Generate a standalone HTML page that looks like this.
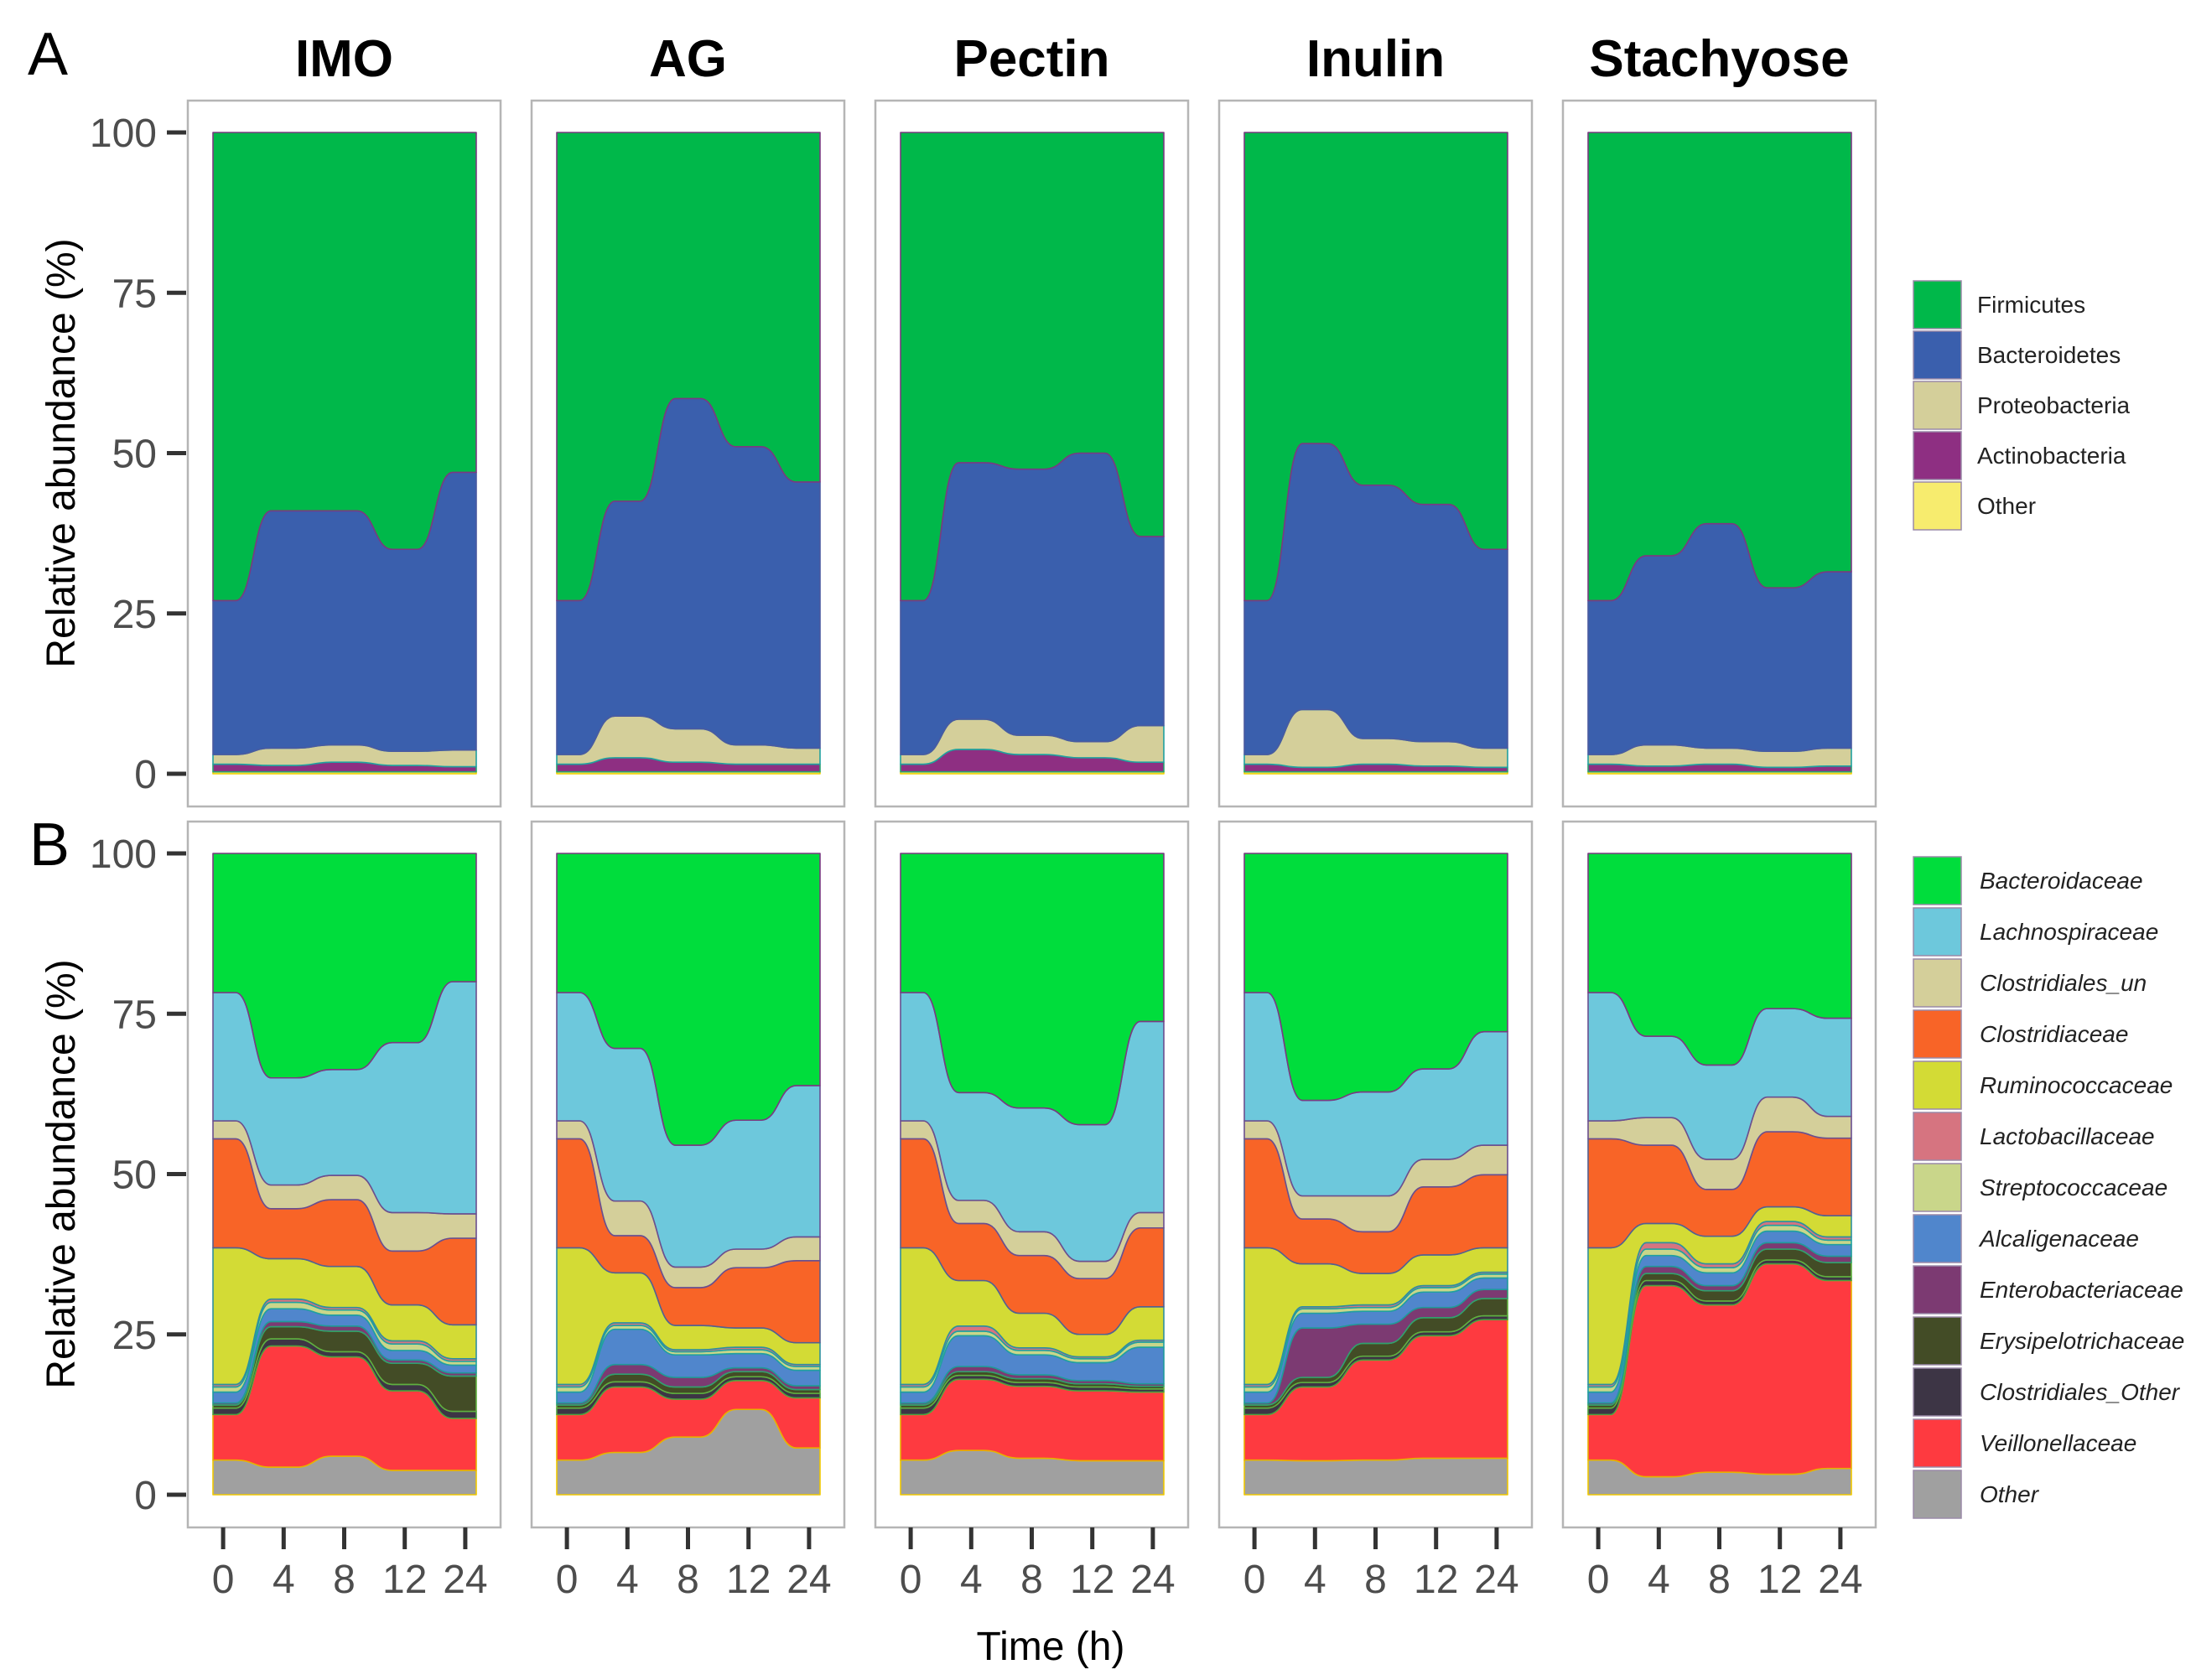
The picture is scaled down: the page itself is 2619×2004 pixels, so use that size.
<!DOCTYPE html>
<html><head><meta charset="utf-8">
<style>
html,body{margin:0;padding:0;background:#fff;}
svg{display:block;}
text{font-family:"Liberation Sans",Arial,sans-serif;}
</style></head>
<body>
<svg id="fig" width="2619" height="2004" viewBox="0 0 2619 2004" xmlns="http://www.w3.org/2000/svg">
<rect x="0" y="0" width="2619" height="2004" fill="#fff"/>
<g id="root"></g>
</svg>
<script>
// ---------- DATA ----------
const substrates = ["IMO", "AG", "Pectin", "Inulin", "Stachyose"];
const timeLabels = ["0", "4", "8", "12", "24"];
const yTicks = [0, 25, 50, 75, 100];

// Panel A (phylum), bottom to top; top layer (Firmicutes) fills remainder to 100
const phylaNames = ["Other", "Actinobacteria", "Proteobacteria", "Bacteroidetes", "Firmicutes"];
const phylaOther = [[0.3,0.3,0.3,0.3,0.3],[0.3,0.3,0.3,0.3,0.3],[0.3,0.3,0.3,0.3,0.3],[0.3,0.3,0.3,0.3,0.3],[0.3,0.3,0.3,0.3,0.3]];
const phylaActino = [[1.2,1,1.5,1,0.8],[1.2,2.2,1.5,1.2,1.2],[1.2,3.5,2.7,2.2,1.5],[1.2,0.7,1.2,0.9,0.7],[1.2,0.9,1.2,0.7,0.9]];
const phylaProteo = [[1.5,2.7,2.7,2.2,2.6],[1.5,6.5,5.2,3,2.5],[1.5,4.7,3,2.5,5.7],[1.5,9,4,3.8,3],[1.5,3.3,2.5,2.5,2.8]];
const phylaBacter = [[24,37,36.5,31.5,43.3],[24,33.5,51.5,46.5,41.5],[24,40,41.5,45,29.5],[24,41.5,39.5,37,31],[24,29.5,35,25.5,27.5]];

// Panel B (family), bottom to top; top layer (Bacteroidaceae) fills remainder to 100
const familyNames = ["Other","Veillonellaceae","Clostridiales_Other","Erysipelotrichaceae","Enterobacteriaceae","Alcaligenaceae","Streptococcaceae","Lactobacillaceae","Ruminococcaceae","Clostridiaceae","Clostridiales_un","Lachnospiraceae","Bacteroidaceae"];
const famOther   = [[5.4,4.3,6,3.8,3.8],[5.4,6.6,9,13.3,7.3],[5.4,6.9,5.7,5.3,5.3],[5.4,5.3,5.4,5.7,5.7],[5.4,2.8,3.5,3.2,4.1]];
const famVeill   = [[7.1,18.9,15.5,12.4,8.1],[7.1,10.2,5.9,4.5,7.8],[7.1,11.1,11.2,10.9,10.7],[7.1,11.5,15.6,19.1,21.6],[7.1,29.8,26.1,32.8,29.3]];
const famCloOth  = [[1,1.1,0.8,1,1.1],[1,0.8,0.9,0.6,0.7],[1,0.6,0.6,0.6,0.5],[1,0.7,0.6,0.6,0.6],[1,0.8,0.6,0.6,0.6]];
const famErys    = [[0.5,1.9,3.2,3.3,5.5],[0.5,1.2,1,0.8,0.6],[0.5,0.6,0.6,0.5,0.4],[0.5,0.8,2,2.2,2.7],[0.5,1.1,1.6,1.7,2.2]];
const famEntero  = [[0.3,0.8,0.8,0.5,0.5],[0.3,1.5,1.5,0.6,0.6],[0.3,0.8,0.6,0.5,0.4],[0.3,7.7,3,1.6,1.4],[0.3,1.1,0.8,1,1]];
const famAlcal   = [[1.7,2,1.7,1.5,1.2],[1.7,5.5,3.5,2.2,2.4],[1.7,4.8,3.1,2.8,5.7],[1.7,2.3,2,2.4,1.8],[1.7,1.7,2,1.8,1.8]];
const famStrep   = [[0.8,1,0.8,1,0.6],[0.8,0.6,0.5,0.6,0.6],[0.8,0.7,0.7,0.6,0.8],[0.8,0.7,0.6,0.7,0.6],[0.8,1,0.8,0.9,0.7]];
const famLacto   = [[0.4,0.5,0.4,0.5,0.4],[0.4,0.4,0.3,0.4,0.3],[0.4,0.8,0.4,0.3,0.3],[0.4,0.3,0.4,0.3,0.3],[0.4,1,0.6,0.6,0.5]];
const famRumino  = [[21.3,6.3,6.4,5.6,5.3],[21.3,7.8,3.8,3,3.4],[21.3,7.1,5.4,3.5,5.2],[21.3,6.7,4.9,4.8,3.8],[21.3,3,4.3,2.3,3.3]];
const famClostr  = [[17,7.8,10.4,8.4,13.5],[17,5.8,5.9,9.4,12.8],[17,8.9,9,8.7,12.3],[17,7,6.5,10.6,11.4],[17,12.2,7.3,11.7,12.1]];
const famCloUn   = [[2.8,3.7,3.8,6,3.8],[2.8,5.4,3.2,2.9,3.7],[2.8,3.6,3.7,2.7,2.4],[2.8,3.6,5.6,4.3,4.6],[2.8,4.3,4.7,5.4,3.4]];
const famLachno  = [[20,16.7,16.5,26.5,36.2],[20,23.8,19,20.1,23.6],[20,16.8,19.3,21.3,29.8],[20,14.9,16.2,14.1,17.7],[20,12.7,14.7,13.8,15.3]];

// ---------- STYLE ----------
const phylaFill = ["#f7ec6e","#8e2f82","#d4cf9a","#3a5fad","#00b84a"];
const phylaStroke = ["#f0d000","#2aa070","#20a0a0","#4a5aa0","#7a3a80"];
const famFill = ["#a0a0a0","#fe3a40","#3d3545","#434c26","#7c3a72","#5086cc","#c9d68a","#d67480","#d3db35","#f86427","#d4cf9a","#6dc8dc","#00dd3c"];
const famStroke = ["#f0c800","#e8b000","#4aa040","#60b040","#30a070","#1f9a9a","#20a0a0","#20a0a0","#2f8f9f","#556090","#6a4f8f","#6a4f8f","#7a3a80"];

const NS = "http://www.w3.org/2000/svg";
const root = document.getElementById("root");
function el(tag, attrs, parent){
  const e = document.createElementNS(NS, tag);
  for (const k in attrs) e.setAttribute(k, attrs[k]);
  (parent||root).appendChild(e);
  return e;
}
function txt(str, attrs, parent){ const t = el("text", attrs, parent); t.textContent = str; return t; }

const PANEL_X0 = 224, PANEL_DX = 410, PANEL_W = 373, PANEL_H = 842;
const DATA_L = 30, DATA_R = 344, H = 15;
function xLocal(i){ return 186.5 + (i - 2) * 72.2; }
function yScale(top, v){ return top + 38 + (100 - v) / 100 * 765; }

function fwd(xs, ys){
  let d = "L" + xs[0][0] + "," + ys[0] + " L" + (xs[0][1]) + "," + ys[0];
  for (let i = 1; i < ys.length; i++){
    const xa = xs[i-1][1], xb = xs[i][0], m = (xb - xa) / 2;
    d += " C" + (xa + m) + "," + ys[i-1] + " " + (xb - m) + "," + ys[i] + " " + xb + "," + ys[i];
    d += " L" + xs[i][1] + "," + ys[i];
  }
  return d;
}
function rev(xs, ys){
  const n = ys.length;
  let d = "L" + xs[n-1][1] + "," + ys[n-1] + " L" + xs[n-1][0] + "," + ys[n-1];
  for (let i = n - 2; i >= 0; i--){
    const xa = xs[i+1][0], xb = xs[i][1], m = (xa - xb) / 2;
    d += " C" + (xa - m) + "," + ys[i+1] + " " + (xb + m) + "," + ys[i] + " " + xb + "," + ys[i];
    d += " L" + xs[i][0] + "," + ys[i];
  }
  return d;
}

function drawPanel(p, top, seriesList, fills, strokes, names, rowName){
  const ox = PANEL_X0 + p * PANEL_DX;
  const g = el("g", {});
  
  
  const box = el("rect", {x: ox, y: top, width: PANEL_W, height: PANEL_H, fill: "#fff", stroke: "#b5b5b5", "stroke-width": 2.5}, g);
  
  
  const xs = [];
  for (let i = 0; i < 5; i++){
    let a = ox + xLocal(i) - H, b = ox + xLocal(i) + H;
    if (i === 0) a = ox + DATA_L;
    if (i === 4) b = ox + DATA_R;
    xs.push([a, b]);
  }
  let cum = [0,0,0,0,0];
  for (let s = 0; s < seriesList.length + 1; s++){
    const lower = cum.slice();
    let upper;
    if (s < seriesList.length){
      const vals = seriesList[s][p];
      upper = lower.map((v, i) => v + vals[i]);
    } else {
      upper = [100,100,100,100,100];
    }
    const yu = upper.map(v => yScale(top, v));
    const yl = lower.map(v => yScale(top, v));
    const d = "M" + xs[0][0] + "," + yl[0] + " " + fwd(xs, yu).slice(1).replace(/^/, "L") + " " + rev(xs, yl) + " Z";
    const path = el("path", {d: d, fill: fills[s], stroke: strokes[s], "stroke-width": 1.6, "stroke-linejoin": "round"}, g);
    
    
    cum = upper;
  }
}

// Titles
substrates.forEach((s, p) => {
  const t = txt(s, {x: PANEL_X0 + p * PANEL_DX + PANEL_W / 2, y: 91, "text-anchor": "middle", "font-size": 62, "font-weight": "bold", fill: "#000"});
  
  
});
const la = txt("A", {x: 33, y: 89, "font-size": 72, fill: "#000"});


const lb = txt("B", {x: 35, y: 1032, "font-size": 72, fill: "#000"});



const TOP_A = 120, TOP_B = 980;
const phylaSeries = [phylaOther, phylaActino, phylaProteo, phylaBacter];
const famSeries = [famOther, famVeill, famCloOth, famErys, famEntero, famAlcal, famStrep, famLacto, famRumino, famClostr, famCloUn, famLachno];
for (let p = 0; p < 5; p++){
  drawPanel(p, TOP_A, phylaSeries, phylaFill, phylaStroke, phylaNames, 'a');
  drawPanel(p, TOP_B, famSeries, famFill, famStroke, familyNames, 'b');
}

// Y axes
[TOP_A, TOP_B].forEach((top, r) => {
  yTicks.forEach(v => {
    const y = yScale(top, v);
    const tk = el("line", {x1: 199, x2: 222, y1: y, y2: y, stroke: "#333", "stroke-width": 5});
    
    
    const lab = txt(String(v), {x: 187, y: y + 17, "text-anchor": "end", "font-size": 48, fill: "#4d4d4d"});
    
    
  });
  const cy = (yScale(top, 0) + yScale(top, 100)) / 2;
  const yt = txt("Relative abundance (%)", {x: 0, y: 0, "text-anchor": "middle", "font-size": 48, fill: "#000", transform: "translate(89," + cy + ") rotate(-90)"});
  
  
});

// X axes (bottom row)
for (let p = 0; p < 5; p++){
  const ox = PANEL_X0 + p * PANEL_DX;
  timeLabels.forEach((lab, i) => {
    const x = ox + xLocal(i);
    const tk = el("line", {x1: x, x2: x, y1: TOP_B + PANEL_H, y2: TOP_B + PANEL_H + 26, stroke: "#333", "stroke-width": 5});
    
    
    const t = txt(lab, {x: x, y: 1900, "text-anchor": "middle", "font-size": 48, fill: "#4d4d4d"});
    
    
  });
}
const xt = txt("Time (h)", {x: 1253, y: 1980, "text-anchor": "middle", "font-size": 48, fill: "#000"});



// Legends
const legA = ["Firmicutes","Bacteroidetes","Proteobacteria","Actinobacteria","Other"];
const legAFill = ["#00b84a","#3a5fad","#d4cf9a","#8e2f82","#f7ec6e"];
legA.forEach((n, i) => {
  const y = 335 + 60 * i;
  const k = el("rect", {x: 2282, y: y, width: 57, height: 57, fill: legAFill[i], stroke: "#9a8aa8", "stroke-width": 1.5});
  
  
  const t = txt(n, {x: 2358, y: y + 38, "font-size": 28, fill: "#222"});
  
  
});
const legB = ["Bacteroidaceae","Lachnospiraceae","Clostridiales_un","Clostridiaceae","Ruminococcaceae","Lactobacillaceae","Streptococcaceae","Alcaligenaceae","Enterobacteriaceae","Erysipelotrichaceae","Clostridiales_Other","Veillonellaceae","Other"];
const legBFill = ["#00dd3c","#6dc8dc","#d4cf9a","#f86427","#d3db35","#d67480","#c9d68a","#5086cc","#7c3a72","#434c26","#3d3545","#fe3a40","#a0a0a0"];
legB.forEach((n, i) => {
  const y = 1022 + 61 * i;
  const k = el("rect", {x: 2282, y: y, width: 57, height: 57, fill: legBFill[i], stroke: "#9a8aa8", "stroke-width": 1.5});
  
  
  const t = txt(n, {x: 2361, y: y + 38, "font-size": 28, "font-style": "italic", fill: "#222"});
  
  
});
</script>
</body></html>
